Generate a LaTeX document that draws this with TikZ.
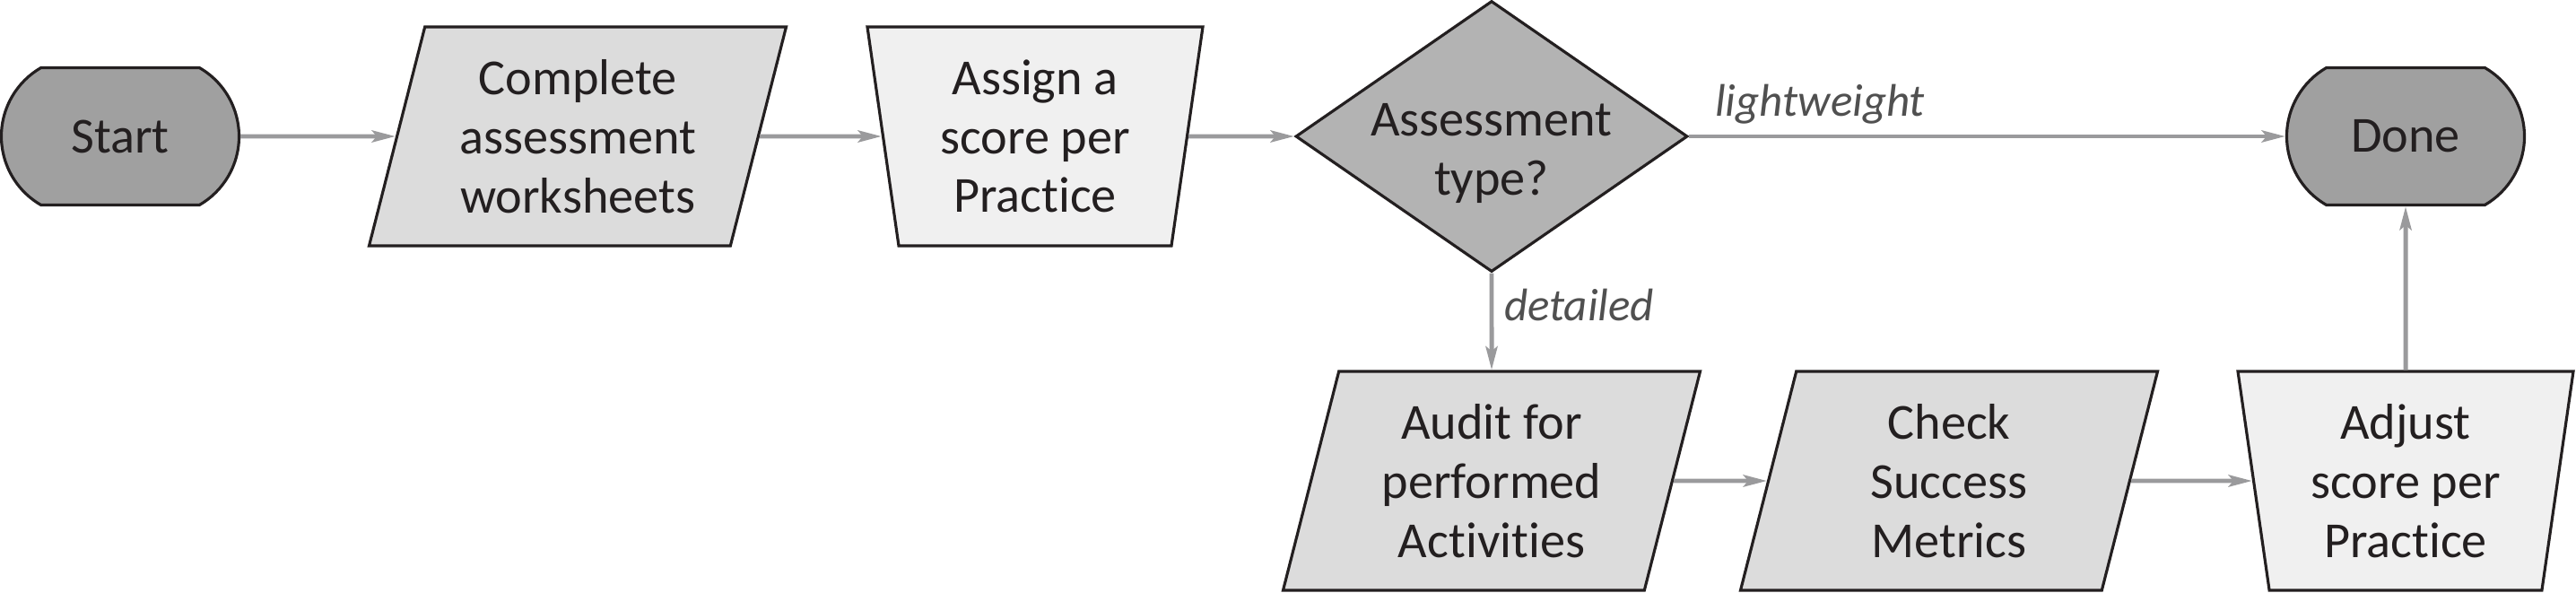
\documentclass[tikz,border=0pt]{standalone}
\usepackage{fontspec}
\setmainfont{Carlito}[Ligatures=NoCommon]
\usetikzlibrary{shapes.geometric,shapes.misc,arrows.meta}

\definecolor{termfill}{HTML}{A0A0A0}
\definecolor{decfill}{HTML}{B3B3B3}
\definecolor{iofill}{HTML}{DCDCDC}
\definecolor{manfill}{HTML}{F0F0F0}
\definecolor{edgeblack}{HTML}{231F20}
\definecolor{linegray}{HTML}{9A9A9C}
\definecolor{lblgray}{HTML}{505050}

\begin{document}
\begin{tikzpicture}[
  font=\fontsize{16}{18.7}\selectfont,
  box/.style={draw=edgeblack, line width=0.9pt, text=edgeblack, align=center, inner sep=0pt},
  terminal/.style={box, fill=termfill, rounded rectangle, rounded rectangle arc length=120,
    minimum width=2.65cm, minimum height=1.53cm},
  worksheet/.style={box, fill=iofill, trapezium, trapezium left angle=70, trapezium right angle=110,
    trapezium stretches body, minimum width=4.65cm, minimum height=2.44cm},
  manual/.style={box, fill=manfill, trapezium, trapezium left angle=101.6, trapezium right angle=101.6,
    trapezium stretches body, minimum width=3.74cm, minimum height=2.44cm},
  decision/.style={box, fill=decfill, diamond, minimum width=4.37cm, minimum height=3.02cm},
  flow/.style={draw=linegray, line width=1.4pt, -{Stealth[length=0.26cm, width=0.13cm, inset=0.05cm]}},
  branch/.style={font=\fontsize{14.5}{17}\selectfont\itshape, text=lblgray}
]
  \useasboundingbox (0,0) rectangle (28.72,6.6);

  \node[terminal] (start) at (1.34,5.08) {Start};
  \node[worksheet] (complete) at (6.44,5.08) {Complete\\assessment\\worksheets};
  \node[manual] (assign) at (11.54,5.08) {Assign a\\score per\\Practice};
  \node[decision, label={[align=center, text=edgeblack, yshift=-0.19cm]center:{Assessment\\type?}}] (type) at (16.63,5.08) {};
  \node[terminal] (done) at (26.82,5.08) {Done};

  \node[worksheet] (audit) at (16.63,1.24) {Audit for\\performed\\Activities};
  \node[worksheet] (check) at (21.73,1.24) {Check\\Success\\Metrics};
  \node[manual] (adjust) at (26.82,1.24) {Adjust\\score per\\Practice};

  \draw[flow] (start) -- (complete);
  \draw[flow] (complete) -- (assign);
  \draw[flow] (assign) -- (type);
  \draw[flow] (type) -- node[branch, above right, pos=0, xshift=0.15cm] {lightweight} (done);
  \draw[flow] (type) -- node[branch, right, pos=0.33] {detailed} (audit);
  \draw[flow] (audit) -- (check);
  \draw[flow] (check) -- (adjust);
  \draw[flow] (adjust) -- (done);
\end{tikzpicture}
\end{document}
